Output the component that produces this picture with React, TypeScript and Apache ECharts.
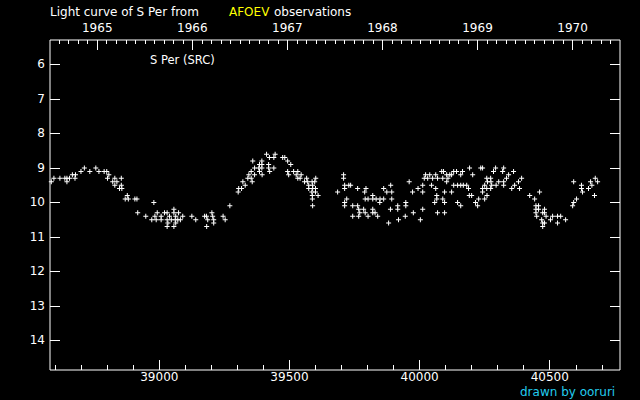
import React, { useEffect, useRef } from "react";
import * as echarts from "echarts";

// Observations: [JD - 2400000, visual magnitude]
const season1965: number[][] = [
  [38585, 9.4], [38595, 9.3], [38618, 9.3], [38637, 9.3], [38645, 9.3], [38655, 9.3], [38645, 9.4],
  [38666, 9.2], [38676, 9.3], [38678, 9.2], [38699, 9.1], [38712, 9.0], [38733, 9.1], [38756, 9.0],
  [38768, 9.1], [38788, 9.1], [38798, 9.1], [38801, 9.3], [38806, 9.2], [38821, 9.4], [38829, 9.3],
  [38829, 9.5], [38837, 9.4], [38847, 9.6], [38854, 9.3], [38854, 9.5], [38856, 9.6], [38869, 9.9],
  [38877, 9.8], [38881, 9.9], [38906, 9.9], [38914, 9.9], [38917, 10.3], [38948, 10.4], [38971, 10.5],
  [38979, 10.0], [38983, 10.4],
];

const season1966min: number[][] = [
  [39056, 10.2],
  [38992, 10.3], [39020, 10.3], [39030, 10.3], [39056, 10.3], [39074, 10.3], [39202, 10.3],
  [39007, 10.4], [39039, 10.4], [39063, 10.4], [39090, 10.4], [39125, 10.4], [39174, 10.4],
  [39181, 10.4], [39205, 10.4], [39245, 10.4],
  [38988, 10.5], [39007, 10.5], [39030, 10.5], [39046, 10.5], [39061, 10.5], [39071, 10.5],
  [39081, 10.5], [39140, 10.5], [39186, 10.5], [39209, 10.5], [39253, 10.5],
  [39033, 10.6], [39063, 10.6], [39209, 10.6],
  [39030, 10.7], [39056, 10.7], [39182, 10.7],
  [39271, 10.1],
];

const season1966max: number[][] = [
  [39412, 8.6], [39445, 8.6],
  [39423, 8.7], [39440, 8.7], [39474, 8.7], [39482, 8.7],
  [39359, 8.8], [39394, 8.8], [39493, 8.8],
  [39385, 8.9], [39394, 8.9], [39420, 8.9], [39505, 8.9],
  [39366, 9.0], [39382, 9.0], [39394, 9.0], [39420, 9.0], [39440, 9.0],
  [39353, 9.1], [39385, 9.1], [39424, 9.1], [39493, 9.1], [39516, 9.1], [39532, 9.1],
  [39344, 9.2], [39366, 9.2], [39395, 9.2], [39497, 9.2], [39526, 9.2], [39545, 9.2],
  [39340, 9.3], [39353, 9.3], [39532, 9.3], [39541, 9.3], [39566, 9.3], [39601, 9.3],
  [39321, 9.4], [39357, 9.4], [39558, 9.4], [39570, 9.4], [39587, 9.4], [39597, 9.4],
  [39330, 9.5], [39574, 9.5], [39589, 9.5],
  [39305, 9.6], [39316, 9.6], [39574, 9.6], [39589, 9.6], [39600, 9.6],
  [39303, 9.7], [39586, 9.7], [39600, 9.7],
  [39588, 9.8], [39610, 9.8],
  [39588, 9.9],
  [39589, 10.1],
];

const season1968: number[][] = [
  [39708, 9.2], [39708, 9.3], [39960, 9.4],
  [39712, 9.5], [39728, 9.5], [39735, 9.5], [39889, 9.5],
  [39712, 9.6], [39762, 9.6], [39794, 9.6], [39862, 9.6], [39994, 9.6],
  [39685, 9.7], [39789, 9.7], [39874, 9.7], [39893, 9.7], [39973, 9.7],
  [39820, 9.8],
  [39720, 9.9], [39791, 9.9], [39802, 9.9], [39820, 9.9], [39833, 9.9], [39848, 9.9], [39862, 9.9], [39893, 9.9],
  [39712, 10.0], [39847, 10.0], [39947, 10.0],
  [39712, 10.1], [39743, 10.1], [39762, 10.1], [39916, 10.1], [39947, 10.1],
  [39766, 10.2], [39785, 10.2], [39820, 10.2], [39888, 10.2], [39916, 10.2],
  [39770, 10.3], [39791, 10.3], [39820, 10.3], [39829, 10.3], [39976, 10.3],
  [39743, 10.4], [39766, 10.4], [39802, 10.4], [39839, 10.4], [39945, 10.4],
  [39919, 10.5], [39881, 10.6],
];

const season1969: number[][] = [
  [40192, 9.0], [40235, 9.0], [40242, 9.0], [40292, 9.0], [40323, 9.0],
  [40085, 9.1], [40092, 9.1], [40131, 9.1], [40142, 9.1], [40165, 9.1], [40284, 9.1], [40319, 9.1], [40361, 9.1],
  [40023, 9.2], [40039, 9.2], [40062, 9.2], [40104, 9.2], [40116, 9.2], [40123, 9.2], [40158, 9.2], [40204, 9.2], [40342, 9.2],
  [40018, 9.3], [40031, 9.3], [40050, 9.3], [40069, 9.3], [40089, 9.3], [40109, 9.3], [40258, 9.3], [40273, 9.3], [40334, 9.3], [40392, 9.3],
  [40104, 9.4], [40261, 9.4], [40274, 9.4], [40304, 9.4], [40323, 9.4], [40380, 9.4],
  [40012, 9.5], [40046, 9.5], [40131, 9.5], [40146, 9.5], [40158, 9.5], [40168, 9.5], [40181, 9.5],
  [40250, 9.5], [40277, 9.5], [40294, 9.5], [40323, 9.5], [40365, 9.5],
  [40062, 9.6], [40188, 9.6], [40242, 9.6], [40258, 9.6], [40273, 9.6], [40354, 9.6], [40384, 9.6],
  [40012, 9.7], [40096, 9.7], [40123, 9.7], [40242, 9.7],
  [40066, 9.8], [40191, 9.8], [40200, 9.8], [40259, 9.8], [40423, 9.8],
  [40066, 9.9], [40089, 9.9], [40227, 9.9], [40250, 9.9],
  [40058, 10.0], [40096, 10.0], [40146, 10.0], [40215, 10.0],
  [40158, 10.1], [40223, 10.1],
  [40012, 10.2], [40069, 10.3], [40096, 10.3], [40003, 10.5],
];

const season1970: number[][] = [
  [40461, 9.7], [40442, 9.9],
  [40447, 10.1], [40457, 10.1],
  [40447, 10.2], [40457, 10.2], [40480, 10.2],
  [40447, 10.3], [40473, 10.3], [40480, 10.3],
  [40450, 10.4], [40486, 10.4], [40511, 10.4], [40530, 10.4], [40542, 10.4],
  [40469, 10.5], [40503, 10.5], [40561, 10.5],
  [40473, 10.6], [40480, 10.6], [40530, 10.6],
  [40473, 10.7],
  [40675, 9.3],
  [40592, 9.4], [40657, 9.4], [40684, 9.4],
  [40622, 9.5], [40662, 9.5],
  [40622, 9.6], [40649, 9.6],
  [40626, 9.7], [40672, 9.8], [40603, 9.9], [40592, 10.0], [40588, 10.1],
];

// Axes
const jdMin = 38580;
const jdMax = 40770;
const jdMajorTicks = [39000, 39500, 40000, 40500];
const magMin = 5.29;
const magMax = 14.86;
const magTicks = [6, 7, 8, 9, 10, 11, 12, 13, 14];
const yearLabels = ["1965", "1966", "1967", "1968", "1969", "1970"];
const JD_1965 = 38761.5; // JD-2400000 of 1965 Jan 1.0
const YEAR_DAYS = 365.25;

const FONT = "DejaVu Sans";
const PLUS = "path://M2,0H3V2H5V3H3V5H2V3H0V2H2Z";

export default function App() {
  const ref = useRef<HTMLDivElement>(null);

  useEffect(() => {
    document.body.style.margin = "0";
    document.body.style.background = "#000";
    if (!ref.current) return;
    const chart = echarts.init(ref.current, null, { renderer: "svg" });

    const jdMinorTicks: number[] = [];
    for (let v = Math.ceil(jdMin / 100) * 100; v <= jdMax; v += 100) {
      if (!jdMajorTicks.includes(v)) jdMinorTicks.push(v);
    }
    const yearTicks = yearLabels.map((y) => JD_1965 + (Number(y) - 1965) * YEAR_DAYS);
    const yearMinorTicks: number[] = [];
    for (let k = -10; k <= 70; k++) {
      if (k % 10 === 0) continue;
      const v = JD_1965 + (k / 10) * YEAR_DAYS;
      if (v > jdMin && v < jdMax) yearMinorTicks.push(v);
    }

    const data = [
      ...season1965,
      ...season1966min,
      ...season1966max,
      ...season1968,
      ...season1969,
      ...season1970,
    ];

    const baseX = {
      type: "value" as const,
      min: jdMin,
      max: jdMax,
      axisLine: { show: false },
      splitLine: { show: false },
    };
    const baseY = {
      type: "value" as const,
      min: magMin,
      max: magMax,
      inverse: true,
      axisLine: { show: false },
      splitLine: { show: false },
    };

    chart.setOption({
      animation: false,
      backgroundColor: "#000",
      grid: {
        left: 50,
        right: 20,
        top: 40,
        bottom: 30,
        show: true,
        borderColor: "#fff",
        borderWidth: 1,
        backgroundColor: "transparent",
      },
      xAxis: [
        {
          ...baseX,
          position: "bottom",
          axisTick: { inside: true, length: 10, customValues: jdMajorTicks, lineStyle: { color: "#fff" } },
          axisLabel: {
            customValues: jdMajorTicks,
            color: "#fff",
            fontFamily: FONT,
            fontSize: 12,
            margin: 1,
            lineHeight: 12,
            formatter: (v: number) => String(Math.round(v)),
          },
        },
        {
          ...baseX,
          position: "bottom",
          axisTick: { inside: true, length: 5, customValues: jdMinorTicks, lineStyle: { color: "#fff" } },
          axisLabel: { show: false },
        },
        {
          ...baseX,
          position: "top",
          axisTick: { inside: true, length: 10, customValues: yearTicks, lineStyle: { color: "#fff" } },
          axisLabel: {
            customValues: yearTicks,
            color: "#fff",
            fontFamily: FONT,
            fontSize: 12,
            margin: 6,
            formatter: (v: number) => {
              let best = 0;
              yearTicks.forEach((t, i) => {
                if (Math.abs(t - v) < Math.abs(yearTicks[best] - v)) best = i;
              });
              return yearLabels[best];
            },
          },
        },
        {
          ...baseX,
          position: "top",
          axisTick: { inside: true, length: 4, customValues: yearMinorTicks, lineStyle: { color: "#fff" } },
          axisLabel: { show: false },
        },
      ],
      yAxis: [
        {
          ...baseY,
          position: "left",
          axisTick: { inside: true, length: 10, customValues: magTicks, lineStyle: { color: "#fff" } },
          axisLabel: {
            customValues: magTicks,
            color: "#fff",
            fontFamily: FONT,
            fontSize: 12,
            margin: 5,
          },
        },
        {
          ...baseY,
          position: "right",
          axisTick: { inside: true, length: 10, customValues: magTicks, lineStyle: { color: "#fff" } },
          axisLabel: { show: false },
        },
      ],
      series: [
        {
          type: "scatter",
          xAxisIndex: 0,
          yAxisIndex: 0,
          symbol: PLUS,
          symbolSize: 5,
          silent: true,
          itemStyle: { color: "#fff", opacity: 1 },
          data,
        },
      ],
      graphic: [
        {
          type: "text",
          x: 50,
          y: 12,
          style: {
            text: "Light curve of S Per from",
            fill: "#fff",
            font: `12px "${FONT}"`,
            textAlign: "left",
            textVerticalAlign: "middle",
            verticalAlign: "middle",
          },
        },
        {
          type: "text",
          x: 229,
          y: 12,
          style: {
            text: "AFOEV",
            fill: "#ffff00",
            font: `12px "${FONT}"`,
            textAlign: "left",
            textVerticalAlign: "middle",
            verticalAlign: "middle",
          },
        },
        {
          type: "text",
          x: 274,
          y: 12,
          style: {
            text: "observations",
            fill: "#fff",
            font: `12px "${FONT}"`,
            textAlign: "left",
            textVerticalAlign: "middle",
            verticalAlign: "middle",
          },
        },
        {
          type: "text",
          x: 150,
          y: 60,
          style: {
            text: "S Per (SRC)",
            fill: "#fff",
            font: `11.5px "${FONT}"`,
            textAlign: "left",
            textVerticalAlign: "middle",
            verticalAlign: "middle",
          },
        },
        {
          type: "text",
          x: 520,
          y: 392,
          style: {
            text: "drawn by ooruri",
            fill: "#22ccee",
            font: `12px "${FONT}"`,
            textAlign: "left",
            textVerticalAlign: "middle",
            verticalAlign: "middle",
          },
        },
      ],
    });

    return () => chart.dispose();
  }, []);

  return <div ref={ref} style={{ width: 640, height: 400, background: "#000" }} />;
}
